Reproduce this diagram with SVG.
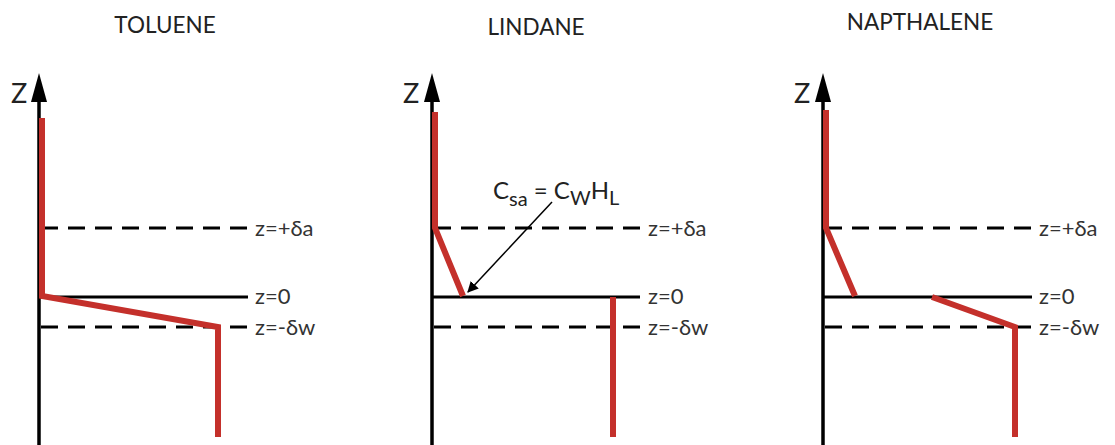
<svg xmlns="http://www.w3.org/2000/svg" width="1115" height="445" viewBox="0 0 1115 445">
<style>
.title{font-family:Lato,"Open Sans",sans-serif;font-size:22.5px;fill:#222;text-anchor:middle}
.zl{font-family:Lato,"Open Sans",sans-serif;font-size:27px;fill:#222}
.lbl{font-family:Lato,"Open Sans",sans-serif;font-size:22px;fill:#333}
.ann{font-family:Lato,"Open Sans",sans-serif;font-size:24px;fill:#222}
.sub{font-size:20px}
.axis{stroke:#000;stroke-width:3.5;fill:none}
.solid{stroke:#000;stroke-width:3;fill:none}
.dash{stroke:#000;stroke-width:3;fill:none;stroke-dasharray:17 10}
.red{stroke:#c4302b;stroke-width:6;fill:none;stroke-linejoin:miter}
.ptr{stroke:#000;stroke-width:1.5;fill:none}
</style>
<defs>
<marker id="ah" viewBox="0 0 10 10" refX="9" refY="5" markerWidth="11" markerHeight="11" markerUnits="userSpaceOnUse" orient="auto">
<path d="M0,0 L10,5 L0,10 z" fill="#000"/>
</marker>
</defs>
<g id="toluene">
<text class="title" x="165" y="33">TOLUENE</text>
<line class="axis" x1="39" y1="445" x2="39" y2="98"/>
<polygon points="39,73 31,102 47,102" fill="#000"/>
<text class="zl" x="11" y="103">Z</text>
<line class="dash" x1="41" y1="228" x2="248" y2="228"/>
<line class="solid" x1="39" y1="297" x2="248" y2="297"/>
<line class="dash" x1="41" y1="327" x2="248" y2="327"/>
<text class="lbl" x="255" y="236">z=+δa</text>
<text class="lbl" x="255" y="304">z=0</text>
<text class="lbl" x="255" y="335">z=-δw</text>
<polyline class="red" points="42,118 42,296 218,327 218,437"/>
</g>
<g id="lindane">
<text class="title" x="536" y="35">LINDANE</text>
<line class="axis" x1="432" y1="445" x2="432" y2="98"/>
<polygon points="432,73 424,102 440,102" fill="#000"/>
<text class="zl" x="403" y="103">Z</text>
<line class="dash" x1="434" y1="228" x2="640" y2="228"/>
<line class="solid" x1="432" y1="297" x2="640" y2="297"/>
<line class="dash" x1="434" y1="327" x2="640" y2="327"/>
<text class="lbl" x="648" y="236">z=+δa</text>
<text class="lbl" x="648" y="304">z=0</text>
<text class="lbl" x="648" y="335">z=-δw</text>
<polyline class="red" points="435,112 435,228 463,296"/>
<line class="red" x1="613" y1="297" x2="613" y2="437"/>
<text class="ann" x="493" y="199">C<tspan class="sub" dy="7">sa</tspan><tspan dy="-7"> = C</tspan><tspan class="sub" dy="6">W</tspan><tspan dy="-6">H</tspan><tspan class="sub" dy="6">L</tspan></text>
</g>
<g id="napthalene">
<text class="title" x="920" y="30">NAPTHALENE</text>
<line class="axis" x1="823" y1="445" x2="823" y2="98"/>
<polygon points="823,73 815,102 831,102" fill="#000"/>
<text class="zl" x="794" y="103">Z</text>
<line class="dash" x1="825" y1="228" x2="1032" y2="228"/>
<line class="solid" x1="823" y1="297" x2="1032" y2="297"/>
<line class="dash" x1="825" y1="327" x2="1032" y2="327"/>
<text class="lbl" x="1039" y="236">z=+δa</text>
<text class="lbl" x="1039" y="304">z=0</text>
<text class="lbl" x="1039" y="335">z=-δw</text>
<polyline class="red" points="826,110 826,228 855,296"/>
<polyline class="red" points="932,297 1015,327 1015,437"/>
</g>
<g id="connectors">
<line class="ptr" x1="552" y1="202" x2="468" y2="292" marker-end="url(#ah)"/>
</g>
</svg>
